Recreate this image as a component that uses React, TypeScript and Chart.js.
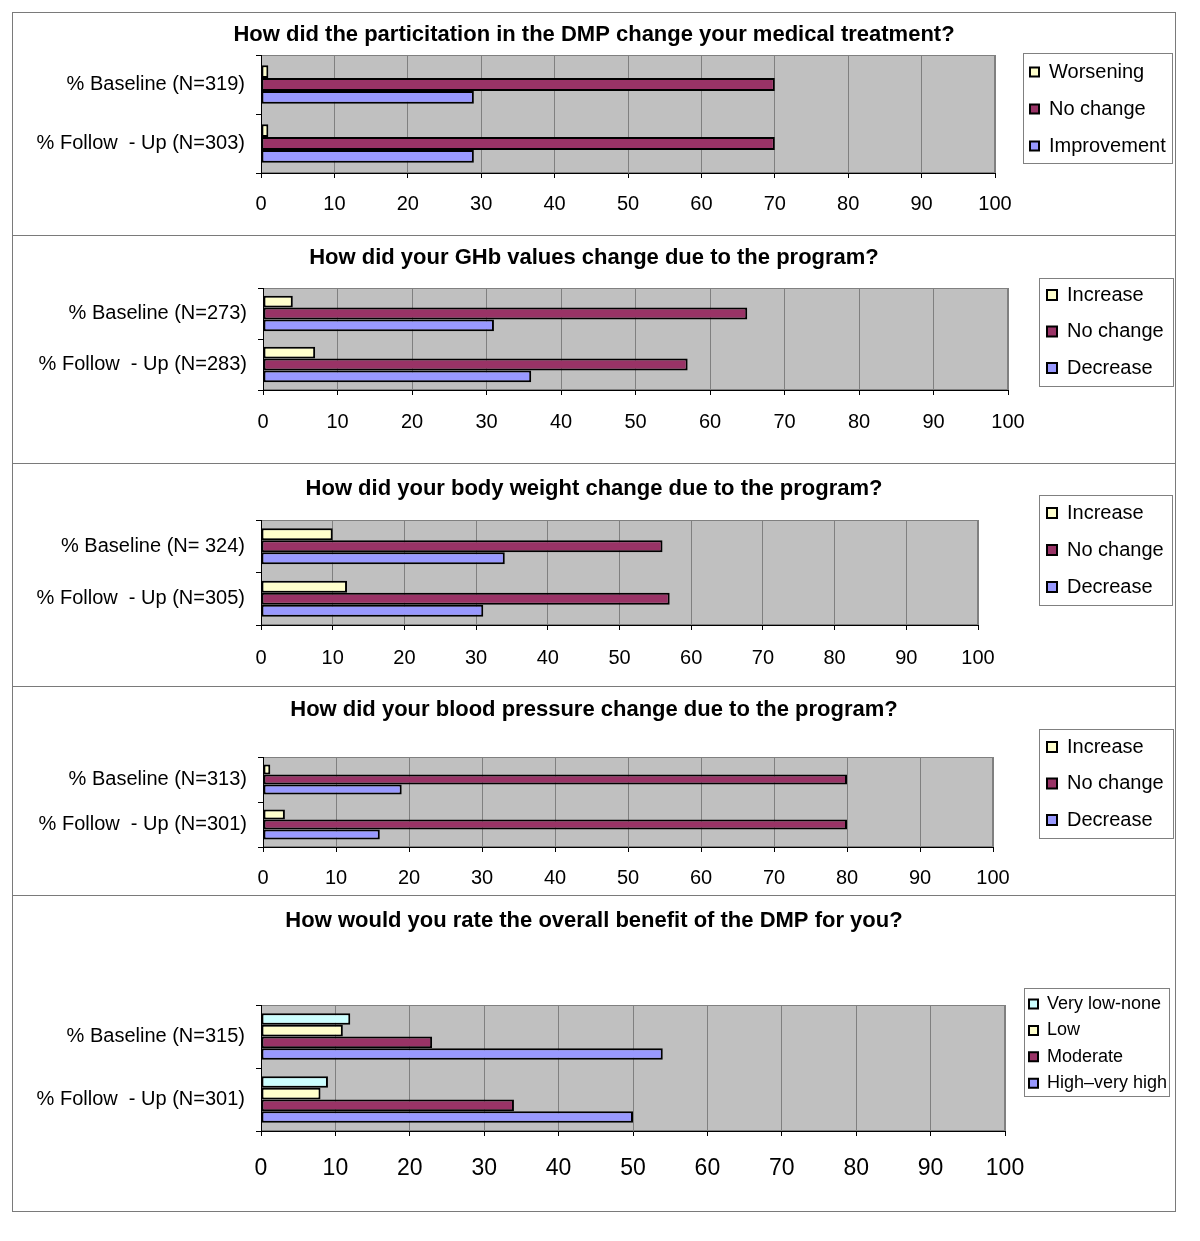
import React, { useEffect, useRef } from 'react';
import { Chart, registerables } from 'chart.js';

Chart.register(...registerables);

const FONT = '"Liberation Sans", Arial, Helvetica, sans-serif';

// ---------- DATA ----------
const X_MIN = 0;
const X_MAX = 100;
const X_STEP = 10;

const TITLE_1 = 'How did the particitation in the DMP change your medical treatment?';
const GROUPS_1 = ['% Baseline (N=319)', '% Follow  - Up (N=303)'];
const SERIES_1 = ['Worsening', 'No change', 'Improvement'];
const WORSENING_1 = [1, 1];
const NO_CHANGE_1 = [70, 70];
const IMPROVEMENT_1 = [29, 29];

const TITLE_2 = 'How did your GHb values change due to the program?';
const GROUPS_2 = ['% Baseline (N=273)', '% Follow  - Up (N=283)'];
const SERIES_2 = ['Increase', 'No change', 'Decrease'];
const INCREASE_2 = [4, 7];
const NO_CHANGE_2 = [65, 57];
const DECREASE_2 = [31, 36];

const TITLE_3 = 'How did your body weight change due to the program?';
const GROUPS_3 = ['% Baseline (N= 324)', '% Follow  - Up (N=305)'];
const SERIES_3 = ['Increase', 'No change', 'Decrease'];
const INCREASE_3 = [10, 12];
const NO_CHANGE_3 = [56, 57];
const DECREASE_3 = [34, 31];

const TITLE_4 = 'How did your blood pressure change due to the program?';
const GROUPS_4 = ['% Baseline (N=313)', '% Follow  - Up (N=301)'];
const SERIES_4 = ['Increase', 'No change', 'Decrease'];
const INCREASE_4 = [1, 3];
const NO_CHANGE_4 = [80, 80];
const DECREASE_4 = [19, 16];

const TITLE_5 = 'How would you rate the overall benefit of the DMP for you?';
const GROUPS_5 = ['% Baseline (N=315)', '% Follow  - Up (N=301)'];
const SERIES_5 = ['Very low-none', 'Low', 'Moderate', 'High\u2013very high'];
const VERY_LOW_5 = [12, 9];
const LOW_5 = [11, 8];
const MODERATE_5 = [23, 34];
const HIGH_5 = [54, 50];

// ---------- STYLE ----------
const YELLOW = '#FFFFCC';
const PLUM = '#993366';
const BLUE = '#9999FF';
const CYAN = '#CCFFFF';
const PLOT_BG = '#C0C0C0';
const GRID = '#808080';

const PANEL_LEFT = 12;
const PANEL_WIDTH = 1164;

type Layout = {
  top: number;
  height: number;
  plot: { l: number; r: number; t: number; b: number };
  titleY: number;
  legend: { x: number; y: number; w: number; h: number; boxLeft: number; firstY: number; pitch: number; font: number; box: number };
  tickSize: number;
  tickPad: number;
  labelSize: number;
  catPct: number;
};

type Panel = {
  title: string;
  groups: string[];
  series: string[];
  values: number[][];
  colors: string[];
  layout: Layout;
};

const PANELS: Panel[] = [
  {
    title: TITLE_1,
    groups: GROUPS_1,
    series: SERIES_1,
    values: [WORSENING_1, NO_CHANGE_1, IMPROVEMENT_1],
    colors: [YELLOW, PLUM, BLUE],
    layout: {
      top: 12, height: 224,
      plot: { l: 261, r: 995, t: 55, b: 173 },
      titleY: 35,
      legend: { x: 1023, y: 53, w: 149, h: 110, boxLeft: 1030, firstY: 72, pitch: 37, font: 20, box: 9 },
      tickSize: 20, tickPad: 14, labelSize: 20, catPct: 0.65,
    },
  },
  {
    title: TITLE_2,
    groups: GROUPS_2,
    series: SERIES_2,
    values: [INCREASE_2, NO_CHANGE_2, DECREASE_2],
    colors: [YELLOW, PLUM, BLUE],
    layout: {
      top: 235, height: 229,
      plot: { l: 263, r: 1008, t: 288, b: 390 },
      titleY: 258,
      legend: { x: 1039, y: 278, w: 134, h: 108, boxLeft: 1047, firstY: 295, pitch: 36.5, font: 20, box: 10 },
      tickSize: 20, tickPad: 15, labelSize: 20, catPct: 0.7,
    },
  },
  {
    title: TITLE_3,
    groups: GROUPS_3,
    series: SERIES_3,
    values: [INCREASE_3, NO_CHANGE_3, DECREASE_3],
    colors: [YELLOW, PLUM, BLUE],
    layout: {
      top: 463, height: 224,
      plot: { l: 261, r: 978, t: 520, b: 625 },
      titleY: 489,
      legend: { x: 1039, y: 495, w: 133, h: 110, boxLeft: 1047, firstY: 513, pitch: 37, font: 20, box: 10 },
      tickSize: 20, tickPad: 16, labelSize: 20, catPct: 0.69,
    },
  },
  {
    title: TITLE_4,
    groups: GROUPS_4,
    series: SERIES_4,
    values: [INCREASE_4, NO_CHANGE_4, DECREASE_4],
    colors: [YELLOW, PLUM, BLUE],
    layout: {
      top: 686, height: 210,
      plot: { l: 263, r: 993, t: 757, b: 847 },
      titleY: 710,
      legend: { x: 1039, y: 729, w: 134, h: 109, boxLeft: 1047, firstY: 747, pitch: 36.5, font: 20, box: 10 },
      tickSize: 20, tickPad: 14, labelSize: 20, catPct: 0.67,
    },
  },
  {
    title: TITLE_5,
    groups: GROUPS_5,
    series: SERIES_5,
    values: [VERY_LOW_5, LOW_5, MODERATE_5, HIGH_5],
    colors: [CYAN, YELLOW, PLUM, BLUE],
    layout: {
      top: 895, height: 317,
      plot: { l: 261, r: 1005, t: 1005, b: 1131 },
      titleY: 921,
      legend: { x: 1024, y: 988, w: 145, h: 108, boxLeft: 1029, firstY: 1004, pitch: 26.4, font: 18, box: 9 },
      tickSize: 23, tickPad: 19, labelSize: 20, catPct: 0.74,
    },
  },
];

const TITLE_SIZE = 22;

function PanelChart({ panel }: { panel: Panel }) {
  const ref = useRef<HTMLCanvasElement | null>(null);
  const L = panel.layout;
  const cw = PANEL_WIDTH - 2;
  const ch = L.height - 2;

  useEffect(() => {
    const canvas = ref.current;
    if (!canvas) return;
    const cx0 = PANEL_LEFT + 1;
    const cy0 = L.top + 1;
    const lg = L.legend;
    const itemH = Math.max(lg.font, lg.box);
    const legendPad = lg.pitch - itemH;
    const titleLH = TITLE_SIZE * 1.2;

    const yAxisWidth = L.plot.l - cx0;
    const xAxisHeight = cy0 + ch - L.plot.b;
    const padRight = cx0 + cw - L.plot.r;
    const titlePadTop = L.titleY - cy0 - titleLH / 2;
    const titlePadBottom = L.plot.t - L.titleY - titleLH / 2;

    const decor = {
      id: 'panelDecor',
      beforeDraw(chart: any) {
        const { ctx, chartArea: a } = chart;
        ctx.save();
        ctx.fillStyle = PLOT_BG;
        ctx.fillRect(a.left, a.top, a.right - a.left, a.bottom - a.top);
        ctx.strokeStyle = GRID;
        ctx.lineWidth = 1;
        ctx.strokeRect(Math.round(a.left) + 0.5, Math.round(a.top) + 0.5, Math.round(a.right - a.left) - 1, Math.round(a.bottom - a.top) - 1);
        ctx.strokeStyle = GRID;
        ctx.strokeRect(lg.x - cx0 + 0.5, lg.y - cy0 + 0.5, lg.w, lg.h);
        ctx.restore();
      },
      afterLayout(chart: any) {
        // centre the title across the whole panel
        const tb = chart.titleBlock;
        if (tb) {
          tb.left = 0;
          tb.right = cw;
          tb.width = cw;
        }
        // place the legend in the right-hand frame
        const leg = chart.legend;
        if (!leg) return;
        const left = lg.boxLeft - cx0 - legendPad;
        const top = lg.firstY - cy0 - itemH / 2 - legendPad;
        leg.left = left;
        leg.top = top;
        leg.width = lg.w + 60;
        leg.height = 400;
        leg.right = left + leg.width;
        leg.bottom = top + leg.height;
      },
    };

    const chart = new Chart(canvas, {
      type: 'bar',
      data: {
        labels: panel.groups,
        datasets: panel.series.map((name, i) => ({
          label: name,
          data: panel.values[i],
          backgroundColor: panel.colors[i],
          borderColor: '#000000',
          borderWidth: 2,
          borderSkipped: false,
          categoryPercentage: L.catPct,
          barPercentage: 1,
        })),
      },
      options: {
        indexAxis: 'y',
        responsive: false,
        animation: false,
        events: [],
        devicePixelRatio: 1,
        layout: { padding: { left: 0, top: 0, bottom: 0, right: padRight } },
        scales: {
          x: {
            type: 'linear',
            min: X_MIN,
            max: X_MAX,
            afterFit: (s: any) => { s.height = xAxisHeight; },
            ticks: {
              stepSize: X_STEP,
              font: { family: FONT, size: L.tickSize },
              color: '#000',
              padding: L.tickPad,
            },
            grid: { color: GRID, tickColor: '#000', tickLength: 5, lineWidth: 1 },
            border: { display: true, color: '#000', width: 1 },
          },
          y: {
            type: 'category',
            afterFit: (s: any) => { s.width = yAxisWidth; },
            ticks: {
              font: { family: FONT, size: L.labelSize },
              color: '#000',
              padding: 11,
            },
            grid: { drawOnChartArea: false, drawTicks: true, tickLength: 5, color: '#000', offset: true },
            border: { display: true, color: '#000', width: 1 },
          },
        },
        plugins: {
          title: {
            display: true,
            text: panel.title,
            color: '#000',
            font: { family: FONT, size: TITLE_SIZE, weight: 'bold' },
            padding: { top: titlePadTop, bottom: titlePadBottom },
          },
          legend: {
            display: true,
            position: 'chartArea',
            align: 'start',
            labels: {
              font: { family: FONT, size: lg.font },
              color: '#000',
              boxWidth: lg.box,
              boxHeight: lg.box,
              padding: legendPad,
            },
          },
          tooltip: { enabled: false },
        },
      } as any,
      plugins: [decor],
    });
    return () => chart.destroy();
  }, [panel]);

  return (
    <div
      style={{
        position: 'absolute',
        left: PANEL_LEFT,
        top: L.top,
        width: PANEL_WIDTH,
        height: L.height,
        border: '1px solid #7a7a7a',
        boxSizing: 'border-box',
        background: '#fff',
      }}
    >
      <canvas ref={ref} width={cw} height={ch} style={{ position: 'absolute', left: 0, top: 0, display: 'block' }} />
    </div>
  );
}

export default function App() {
  return (
    <div style={{ position: 'absolute', left: 0, top: 0, width: 1200, height: 1241, background: '#fff' }}>
      {PANELS.map((p, i) => (
        <PanelChart key={i} panel={p} />
      ))}
    </div>
  );
}
